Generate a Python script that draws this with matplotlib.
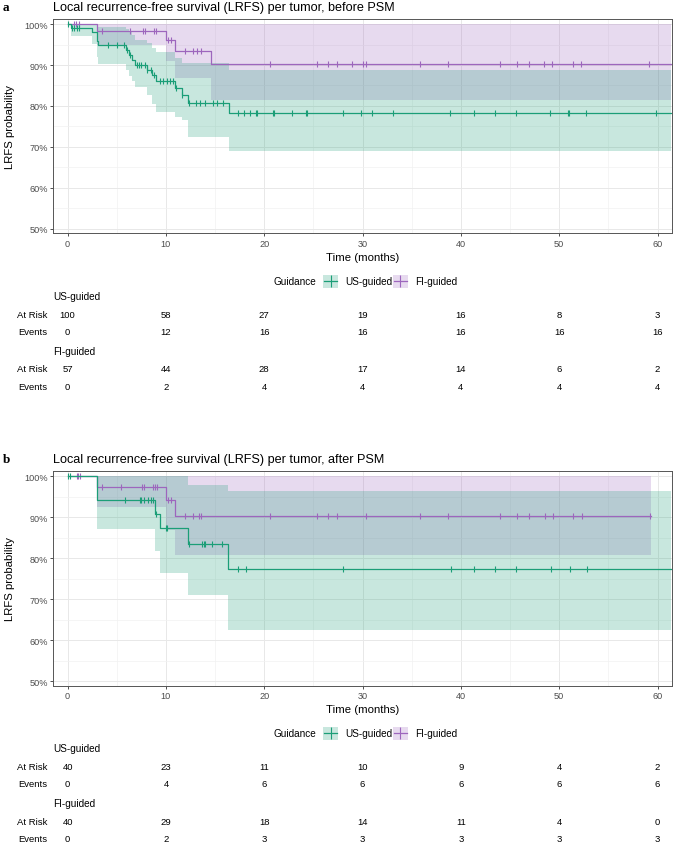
"""
LRFS Kaplan-Meier curves per tumor, US-guided vs FI-guided, before and after PSM
"""
import numpy as np
import matplotlib
matplotlib.use("Agg")
import matplotlib.pyplot as plt
from matplotlib.transforms import blended_transform_factory
from matplotlib.patches import Rectangle
from matplotlib.lines import Line2D

plt.rcParams['font.family'] = ['Liberation Sans', 'DejaVu Sans']

GREEN = '#1b9e77'
PURPLE = '#9d66bd'

groups = ['US-guided', 'FI-guided']
table_times = [0, 10, 20, 30, 40, 50, 60]

# ---- panel a: before PSM ----
us_a_time = [0, 0.3, 2.5, 3.0, 3.1, 5.9, 6.2, 6.5, 6.9, 8.1, 8.6, 9.0, 10.9, 11.6, 12.2, 16.4]
us_a_surv = [1.0, 0.990, 0.980, 0.959, 0.948, 0.936, 0.925, 0.913, 0.901, 0.889, 0.875, 0.861, 0.843, 0.826, 0.808, 0.784]
us_a_low = [1.0, 0.970, 0.952, 0.920, 0.902, 0.888, 0.874, 0.860, 0.846, 0.828, 0.806, 0.786, 0.772, 0.767, 0.724, 0.691]
us_a_up = [1.0, 1.0, 1.0, 0.998, 0.993, 0.988, 0.980, 0.972, 0.962, 0.953, 0.942, 0.931, 0.918, 0.906, 0.905, 0.889]
us_a_end = 61.4
us_a_cens = [0.0, 0.4, 0.65, 0.9, 1.2, 4.1, 5.0, 5.7, 6.0, 6.3, 7.1, 7.3, 7.5, 7.9, 8.1,
             8.5, 8.8, 9.4, 9.7, 10.1, 10.4, 10.7, 11.0, 11.6, 12.3, 13.1, 13.5, 14.0,
             14.8, 15.2, 15.8, 17.3, 17.9, 18.5, 19.2, 19.3, 20.9, 21.0, 22.8, 24.2,
             24.3, 28.0, 29.8, 31.0, 33.1, 38.9, 41.3, 43.5, 45.6, 49.1, 50.9, 51.0,
             52.7, 59.8]

fi_a_time = [0, 3.0, 10.0, 10.9, 14.6]
fi_a_surv = [1.0, 0.982, 0.961, 0.935, 0.902]
fi_a_low = [1.0, 0.948, 0.910, 0.868, 0.815]
fi_a_up = [1.0, 1.0, 1.0, 1.0, 1.0]
fi_a_end = 61.4
fi_a_cens = [0.6, 0.8, 1.2, 3.5, 6.3, 7.7, 7.9, 8.8, 8.95, 10.2, 10.5, 11.9, 12.7,
             13.2, 13.6, 20.6, 25.4, 26.5, 27.4, 28.9, 30.0, 30.3, 35.8, 38.7, 44.0,
             45.7, 46.9, 48.5, 49.3, 51.4, 52.2, 59.1]

us_a_risk = [100, 58, 27, 19, 16, 8, 3]
us_a_events = [0, 12, 16, 16, 16, 16, 16]
fi_a_risk = [57, 44, 28, 17, 14, 6, 2]
fi_a_events = [0, 2, 4, 4, 4, 4, 4]

# ---- panel b: after PSM ----
us_b_time = [0, 3.0, 8.9, 9.4, 12.2, 16.3]
us_b_surv = [1.0, 0.943, 0.909, 0.874, 0.834, 0.774]
us_b_low = [1.0, 0.872, 0.818, 0.765, 0.711, 0.625]
us_b_up = [1.0, 1.0, 1.0, 1.0, 0.980, 0.963]
us_b_end = 61.4
us_b_cens = [0.0, 0.2, 5.8, 7.4, 7.5, 7.8, 8.2, 8.5, 8.7, 9.0, 10.0, 10.1, 12.3, 13.7,
             13.9, 14.0, 14.7, 15.7, 17.3, 18.1, 28.0, 39.0, 41.3, 43.5, 45.6, 49.2,
             51.1, 52.8]

fi_b_time = [0, 3.0, 10.0, 10.9]
fi_b_surv = [1.0, 0.973, 0.943, 0.904]
fi_b_low = [1.0, 0.924, 0.870, 0.809]
fi_b_up = [1.0, 1.0, 1.0, 1.0]
fi_b_end = 59.3
fi_b_cens = [0.9, 1.1, 1.3, 3.5, 5.4, 7.6, 7.8, 8.7, 8.9, 9.1, 10.2, 10.5, 11.9, 12.7,
             13.4, 13.6, 20.6, 25.4, 26.5, 27.4, 30.3, 35.8, 38.7, 44.0, 45.7, 46.9,
             48.6, 49.4, 51.4, 52.3, 59.2]

us_b_risk = [40, 23, 11, 10, 9, 4, 2]
us_b_events = [0, 4, 6, 6, 6, 6, 6]
fi_b_risk = [40, 29, 18, 14, 11, 4, 0]
fi_b_events = [0, 2, 3, 3, 3, 3, 3]

W, H = 676, 845


def fy(py):
    # pixel row (from top) -> figure fraction
    return 1 - py / H


def draw_curve(ax, t, s, lo, up, end, cens, color):
    x = list(t) + [end]
    ax.fill_between(x, list(lo) + [lo[-1]], list(up) + [up[-1]], step='post',
                    color=color, alpha=0.24, lw=0)
    ax.step(x, list(s) + [s[-1]], where='post', color=color, lw=0.9)
    idx = np.searchsorted(t, cens, side='right') - 1
    ax.plot(cens, np.array(s)[idx], ls='none', marker='|', ms=4.5, mew=0.8, color=color)


def draw_panel(fig, top_px, letter, title, curves, tables):
    bot_px = top_px + 214.3
    ax = fig.add_axes([53.3 / W, fy(bot_px), 618.4 / W, 214.3 / H])
    for c in curves:
        draw_curve(ax, *c)

    ax.set_xlim(-1.46, 61.44)
    ax.set_ylim(0.4895, 1.0122)
    ax.set_xticks(range(0, 61, 10))
    ax.set_xticks(range(5, 60, 10), minor=True)
    ax.set_yticks(np.arange(0.5, 1.01, 0.1))
    ax.set_yticks(np.arange(0.55, 1.0, 0.1), minor=True)
    ax.set_yticklabels([f'{v}%' for v in range(50, 101, 10)])
    ax.grid(True, which='major', color='#e8e8e8', lw=0.7)
    ax.grid(True, which='minor', color='#f2f2f2', lw=0.5)
    ax.set_axisbelow(True)
    for sp in ax.spines.values():
        sp.set_color('#555555')
        sp.set_linewidth(0.7)
    ax.tick_params(which='major', length=2.5, width=0.6, color='#333333',
                   labelsize=6.6, labelcolor='#4d4d4d', pad=1.5)
    ax.tick_params(which='minor', length=0)
    ax.set_xlabel('Time (months)', fontsize=8.2, labelpad=3)
    ax.set_ylabel('LRFS probability', fontsize=8.2)
    ax.yaxis.set_label_coords(-0.062, 0.5)

    fig.text(53.3 / W, fy(top_px - 12), title, fontsize=9.1, va='center', ha='left')
    fig.text(3 / W, fy(top_px - 12), letter, fontsize=9.5, fontweight='bold',
             family='Liberation Serif', va='center', ha='left')

    # legend
    ly = fy(top_px + 262)
    fig.text(274 / W, ly, 'Guidance', fontsize=7.2, va='center', ha='left')
    for kx, tx, color, name in [(323, 345, GREEN, groups[0]), (393, 415, PURPLE, groups[1])]:
        fig.patches.append(Rectangle((kx / W, ly - 6.5 / H), 15 / W, 13 / H,
                                     transform=fig.transFigure, color=color, alpha=0.24, lw=0))
        fig.lines.append(Line2D([(kx + 1) / W, (kx + 14) / W], [ly, ly], transform=fig.transFigure,
                                color=color, lw=0.9))
        fig.lines.append(Line2D([(kx + 7.5) / W], [ly], transform=fig.transFigure,
                                color=color, marker='|', ms=8, mew=0.8, ls='none'))
        fig.text(tx / W, ly, name, fontsize=7.2, va='center', ha='left')

    # risk table
    trans = blended_transform_factory(ax.transData, fig.transFigure)
    rows = [(277, 295, 312.5), (331.7, 350, 367)]
    for (hy, ry, ey), name, (risk, events) in zip(rows, groups, tables):
        fig.text(53 / W, fy(top_px + hy), name, fontsize=7.2, va='center', ha='left')
        fig.text(47 / W, fy(top_px + ry), 'At Risk', fontsize=6.8, va='center', ha='right')
        fig.text(47 / W, fy(top_px + ey), 'Events', fontsize=6.8, va='center', ha='right')
        for t, r, e in zip(table_times, risk, events):
            ax.text(t, fy(top_px + ry), str(r), transform=trans, fontsize=6.8,
                    va='center', ha='center')
            ax.text(t, fy(top_px + ey), str(e), transform=trans, fontsize=6.8,
                    va='center', ha='center')
    return ax


fig = plt.figure(figsize=(W / 100, H / 100), dpi=100)

draw_panel(fig, 20, 'a', 'Local recurrence-free survival (LRFS) per tumor, before PSM',
           [(fi_a_time, fi_a_surv, fi_a_low, fi_a_up, fi_a_end, fi_a_cens, PURPLE),
            (us_a_time, us_a_surv, us_a_low, us_a_up, us_a_end, us_a_cens, GREEN)],
           [(us_a_risk, us_a_events), (fi_a_risk, fi_a_events)])

draw_panel(fig, 472.3, 'b', 'Local recurrence-free survival (LRFS) per tumor, after PSM',
           [(fi_b_time, fi_b_surv, fi_b_low, fi_b_up, fi_b_end, fi_b_cens, PURPLE),
            (us_b_time, us_b_surv, us_b_low, us_b_up, us_b_end, us_b_cens, GREEN)],
           [(us_b_risk, us_b_events), (fi_b_risk, fi_b_events)])

fig.savefig('out.png', dpi=100)
